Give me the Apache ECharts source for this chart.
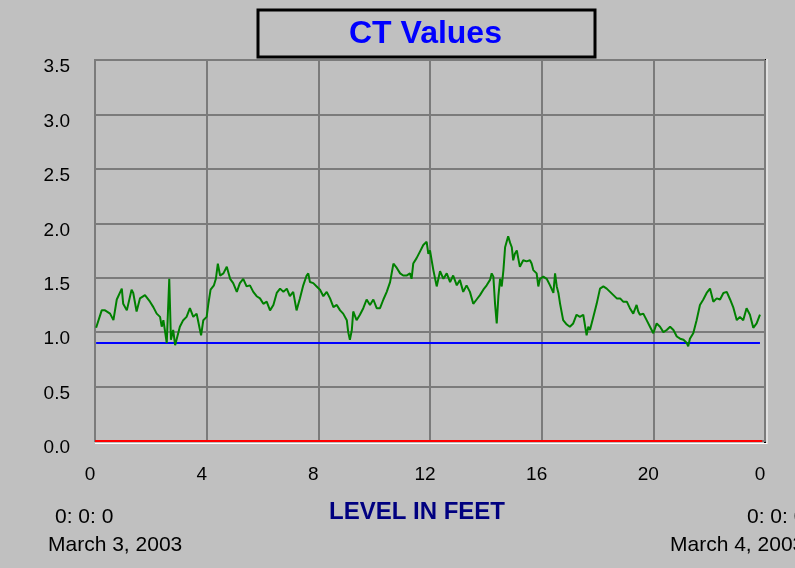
<!DOCTYPE html>
<html lang="en">
<head>
    <meta charset="UTF-8">
    <title>CT Values</title>
    <script src="https://cdn.jsdelivr.net/npm/echarts@6/dist/echarts.min.js"></script>
    <style>
        html, body { margin: 0; padding: 0; background: #c0c0c0; }
    </style>
</head>
<body>
<div id="main" style="width: 795px;height:568px;"></div>

<script type="text/javascript">
    // hours along the x axis (0..24) and CT values
    var ctHours = [
        0.04, 0.24, 0.36, 0.54, 0.66, 0.78, 0.96, 1.01, 1.14, 1.31, 1.37, 1.49, 1.61, 1.79, 1.97, 2.09, 2.21, 2.33, 2.39, 2.45,
        2.57, 2.66, 2.72, 2.80, 2.87, 2.95, 3.04, 3.16, 3.28, 3.40, 3.52, 3.64, 3.76, 3.80, 3.88, 4.00, 4.06, 4.14, 4.26, 4.33,
        4.40, 4.48, 4.60, 4.72, 4.84, 4.95, 5.08, 5.19, 5.31, 5.43, 5.55, 5.67, 5.79, 5.91, 6.03, 6.15, 6.27, 6.39, 6.51, 6.63,
        6.75, 6.87, 6.98, 7.10, 7.22, 7.34, 7.46, 7.58, 7.64, 7.70, 7.82, 7.94, 8.06, 8.18, 8.30, 8.42, 8.54, 8.66, 8.78, 8.89,
        9.02, 9.07, 9.13, 9.20, 9.25, 9.37, 9.49, 9.61, 9.73, 9.85, 9.97, 10.09, 10.21, 10.33, 10.45, 10.57, 10.69, 10.81, 10.93, 11.04,
        11.16, 11.28, 11.34, 11.40, 11.52, 11.64, 11.76, 11.88, 11.94, 12.00, 12.06, 12.12, 12.24, 12.36, 12.48, 12.60, 12.72, 12.83, 12.96, 13.07,
        13.19, 13.31, 13.43, 13.55, 13.67, 13.79, 13.91, 14.03, 14.15, 14.21, 14.27, 14.33, 14.39, 14.45, 14.51, 14.57, 14.63, 14.69, 14.80, 14.87,
        14.93, 14.98, 15.04, 15.11, 15.16, 15.22, 15.34, 15.46, 15.58, 15.64, 15.70, 15.82, 15.88, 15.94, 16.06, 16.18, 16.30, 16.42, 16.48, 16.54,
        16.60, 16.66, 16.77, 16.90, 17.01, 17.13, 17.25, 17.37, 17.49, 17.61, 17.67, 17.73, 17.85, 17.97, 18.09, 18.21, 18.33, 18.45, 18.57, 18.69,
        18.81, 18.92, 19.05, 19.16, 19.28, 19.40, 19.46, 19.52, 19.64, 19.76, 19.88, 20.00, 20.12, 20.24, 20.36, 20.48, 20.60, 20.72, 20.84, 20.96,
        21.08, 21.20, 21.25, 21.31, 21.43, 21.49, 21.55, 21.67, 21.79, 21.91, 22.03, 22.15, 22.27, 22.39, 22.51, 22.63, 22.75, 22.86, 22.99, 23.10,
        23.22, 23.34, 23.46, 23.58, 23.70, 23.82
    ];
    var ctValues = [
        1.04, 1.20, 1.20, 1.17, 1.11, 1.30, 1.40, 1.26, 1.20, 1.39, 1.36, 1.19, 1.31, 1.34, 1.28, 1.23, 1.17, 1.14, 1.05, 1.11,
        0.90, 1.49, 0.93, 1.02, 0.88, 0.96, 1.05, 1.11, 1.14, 1.22, 1.14, 1.17, 1.02, 0.97, 1.11, 1.14, 1.26, 1.39, 1.43, 1.49,
        1.63, 1.52, 1.54, 1.60, 1.49, 1.45, 1.37, 1.45, 1.49, 1.42, 1.43, 1.37, 1.33, 1.31, 1.26, 1.28, 1.20, 1.25, 1.36, 1.40,
        1.37, 1.40, 1.33, 1.37, 1.20, 1.31, 1.43, 1.52, 1.54, 1.46, 1.45, 1.42, 1.39, 1.33, 1.37, 1.31, 1.23, 1.25, 1.20, 1.17,
        1.11, 1.00, 0.93, 1.02, 1.19, 1.11, 1.16, 1.22, 1.30, 1.25, 1.30, 1.22, 1.22, 1.30, 1.37, 1.46, 1.63, 1.59, 1.54, 1.52,
        1.52, 1.54, 1.49, 1.63, 1.68, 1.74, 1.80, 1.83, 1.72, 1.75, 1.66, 1.57, 1.42, 1.56, 1.49, 1.54, 1.46, 1.52, 1.43, 1.48,
        1.37, 1.43, 1.37, 1.26, 1.30, 1.34, 1.39, 1.43, 1.48, 1.54, 1.51, 1.26, 1.08, 1.33, 1.49, 1.42, 1.57, 1.78, 1.88, 1.82,
        1.78, 1.66, 1.72, 1.75, 1.68, 1.60, 1.66, 1.65, 1.66, 1.63, 1.57, 1.54, 1.42, 1.49, 1.51, 1.49, 1.43, 1.36, 1.54, 1.42,
        1.36, 1.26, 1.11, 1.07, 1.05, 1.08, 1.16, 1.14, 1.16, 0.97, 1.05, 1.02, 1.14, 1.26, 1.40, 1.42, 1.40, 1.37, 1.34, 1.31,
        1.31, 1.28, 1.28, 1.22, 1.17, 1.25, 1.19, 1.16, 1.17, 1.11, 1.05, 0.99, 1.08, 1.05, 1.00, 1.02, 1.05, 1.02, 0.96, 0.94,
        0.93, 0.90, 0.87, 0.94, 0.99, 1.05, 1.11, 1.25, 1.30, 1.36, 1.40, 1.28, 1.31, 1.30, 1.36, 1.37, 1.30, 1.23, 1.11, 1.14,
        1.11, 1.22, 1.16, 1.04, 1.08, 1.16
    ];
    // blue reference line and red baseline
    var blueHours = [0.04, 23.82];
    var blueValues = [0.90, 0.90];
    var redHours = [0, 23.9];
    var redValues = [0, 0];

    var yTicks = ['0.0', '0.5', '1.0', '1.5', '2.0', '2.5', '3.0', '3.5'];
    var xTicks = ['0', '4', '8', '12', '16', '20', '0'];

    function pairs(xs, ys) {
        var out = [];
        for (var i = 0; i < xs.length; i++) {
            out.push([xs[i], ys[i]]);
        }
        return out;
    }

    var myChart = echarts.init(document.getElementById('main'));

    var gridColor = '#7b7b7b';
    var font = 'Liberation Sans, Arial, sans-serif';

    var option = {
        animation: false,
        backgroundColor: '#c0c0c0',
        title: {
            text: 'CT Values',
            left: 349,
            top: 18,
            padding: 0,
            textStyle: {
                color: '#0000ff',
                fontSize: 32,
                fontWeight: 'bold',
                fontFamily: font
            }
        },
        grid: {
            left: 95,
            top: 60,
            right: 30,
            bottom: 127,
            show: true,
            borderColor: gridColor,
            borderWidth: 2
        },
        xAxis: {
            type: 'value',
            min: 0,
            max: 24,
            interval: 4,
            name: 'LEVEL IN FEET',
            nameLocation: 'middle',
            nameGap: 59,
            nameTextStyle: {
                color: '#000080',
                fontSize: 24,
                fontWeight: 'bold',
                fontFamily: font,
                padding: [0, 26, 0, 0]
            },
            axisLine: { show: true, lineStyle: { color: gridColor, width: 2 } },
            axisTick: { show: false },
            axisLabel: {
                color: '#000',
                fontSize: 19,
                fontFamily: font,
                margin: 24,
                padding: [0, 10, 0, 0],
                formatter: function (v) { return xTicks[Math.round(v / 4)]; }
            },
            splitLine: { show: true, lineStyle: { color: gridColor, width: 2 } }
        },
        yAxis: {
            type: 'value',
            min: 0,
            max: 3.5,
            interval: 0.5,
            axisLine: { show: true, lineStyle: { color: gridColor, width: 2 } },
            axisTick: { show: false },
            axisLabel: {
                color: '#000',
                fontSize: 19,
                fontFamily: font,
                margin: 25,
                verticalAlign: 'top',
                lineHeight: 14,
                formatter: function (v) { return yTicks[Math.round(v / 0.5)]; }
            },
            splitLine: { show: true, lineStyle: { color: gridColor, width: 2 } }
        },
        graphic: [
            // title frame
            { type: 'rect', shape: { x: 258, y: 10, width: 337, height: 47 },
              style: { fill: 'none', stroke: '#000', lineWidth: 3 } },
            // inset edges of the plot
            { type: 'line', shape: { x1: 765, y1: 59, x2: 765, y2: 443 },
              style: { stroke: '#000', lineWidth: 2 } },
            { type: 'line', shape: { x1: 767, y1: 59, x2: 767, y2: 444 },
              style: { stroke: '#fff', lineWidth: 1 } },
            { type: 'line', shape: { x1: 95, y1: 443.5, x2: 767, y2: 443.5 },
              style: { stroke: '#fff', lineWidth: 1 } },
            // time stamps
            { type: 'text', left: 55, top: 507,
              style: { text: '0: 0: 0', fill: '#000', font: '21px ' + font } },
            { type: 'text', left: 48, top: 535,
              style: { text: 'March 3, 2003', fill: '#000', font: '21px ' + font } },
            { type: 'text', left: 747, top: 507,
              style: { text: '0: 0: 0', fill: '#000', font: '21px ' + font } },
            { type: 'text', left: 670, top: 535,
              style: { text: 'March 4, 2003', fill: '#000', font: '21px ' + font } }
        ],
        series: [
            {
                name: 'baseline',
                type: 'line',
                data: pairs(redHours, redValues),
                showSymbol: false,
                lineStyle: { color: '#ff0000', width: 2 },
                z: 3
            },
            {
                name: 'limit',
                type: 'line',
                data: pairs(blueHours, blueValues),
                showSymbol: false,
                lineStyle: { color: '#0000ff', width: 2 },
                z: 4
            },
            {
                name: 'CT',
                type: 'line',
                data: pairs(ctHours, ctValues),
                showSymbol: false,
                lineStyle: { color: '#008000', width: 2 },
                z: 5
            }
        ]
    };

    myChart.setOption(option);
</script>
</body>
</html>
